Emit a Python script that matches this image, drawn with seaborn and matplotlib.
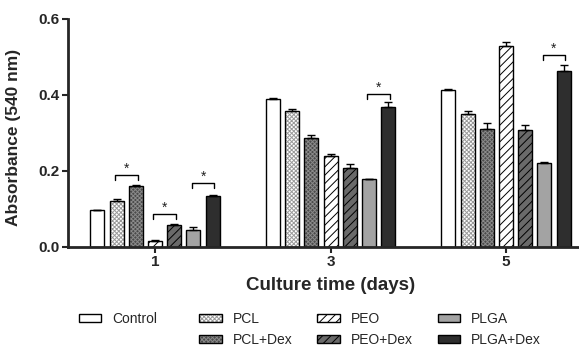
import numpy as np
import pandas as pd
import matplotlib
matplotlib.use("Agg")
import matplotlib.pyplot as plt
import seaborn as sns
from matplotlib.patches import Patch

# ---- data ----
days = ["1", "3", "5"]
materials = ["Control", "PCL", "PCL+Dex", "PEO", "PEO+Dex", "PLGA", "PLGA+Dex"]
means = {
    "Control":  [0.095, 0.390, 0.413],
    "PCL":      [0.120, 0.357, 0.350],
    "PCL+Dex":  [0.159, 0.286, 0.311],
    "PEO":      [0.014, 0.239, 0.528],
    "PEO+Dex":  [0.058, 0.207, 0.306],
    "PLGA":     [0.044, 0.177, 0.221],
    "PLGA+Dex": [0.134, 0.367, 0.463],
}
errors = {
    "Control":  [0.002, 0.002, 0.002],
    "PCL":      [0.005, 0.005, 0.008],
    "PCL+Dex":  [0.004, 0.009, 0.016],
    "PEO":      [0.003, 0.004, 0.012],
    "PEO+Dex":  [0.002, 0.010, 0.014],
    "PLGA":     [0.007, 0.002, 0.001],
    "PLGA+Dex": [0.003, 0.013, 0.016],
}
# significance brackets: (day index, material a, material b, bracket top value)
sig_days = [0, 0, 0, 1, 2]
sig_a = ["PCL", "PEO", "PLGA", "PLGA", "PLGA"]
sig_b = ["PCL+Dex", "PEO+Dex", "PLGA+Dex", "PLGA+Dex", "PLGA+Dex"]
sig_top = [0.189, 0.085, 0.167, 0.403, 0.504]

y_ticks = [0.0, 0.2, 0.4, 0.6]
y_tick_labels = ["0.0", "0.2", "0.4", "0.6"]

# ---- styles ----
face = {"Control": "white", "PCL": "white", "PCL+Dex": "#4a4a4a",
        "PEO": "white", "PEO+Dex": "#6a6a6a", "PLGA": "#a3a3a3",
        "PLGA+Dex": "#2e2e2e"}
hatch = {"Control": "", "PCL": "xxxxxxxx", "PCL+Dex": "xxxxxxxx",
         "PEO": "////", "PEO+Dex": "////", "PLGA": "", "PLGA+Dex": ""}
hcol = {"PCL": "#9a9a9a", "PCL+Dex": "#8a8a8a", "PEO": "black", "PEO+Dex": "black"}

rows = []
for m in materials:
    for d, v in zip(days, means[m]):
        rows.append({"day": d, "material": m, "value": v})
df = pd.DataFrame(rows)

sns.set_style("ticks")
plt.rcParams["font.family"] = ["Liberation Sans", "DejaVu Sans"]
plt.rcParams["hatch.linewidth"] = 0.7

fig = plt.figure(figsize=(5.79, 3.46), dpi=100)
ax = fig.add_axes([68 / 579, 1 - 246.5 / 346, 1 - 68 / 579, (246.5 - 19) / 346])

sns.barplot(data=df, x="day", y="value", hue="material", order=days,
            hue_order=materials, palette=[face[m] for m in materials],
            width=0.766, gap=0.27, errorbar=None, edgecolor="black",
            linewidth=1.0, saturation=1, legend=False, ax=ax)

centers = {}
for m, cont in zip(materials, ax.containers):
    xs = []
    ws = []
    for bar in cont:
        bar.set_facecolor(face[m])
        if hatch[m]:
            # hatch drawn in its own colour; outline added on top
            bar.set_hatch(hatch[m])
            bar.set_edgecolor(hcol[m])
            bar.set_linewidth(0)
        else:
            bar.set_edgecolor("black")
        xs.append(bar.get_x() + bar.get_width() / 2)
        ws.append(bar.get_width())
    centers[m] = xs
    if hatch[m]:
        ax.bar(xs, means[m], width=ws, fill=False, edgecolor="black",
               linewidth=1.0, zorder=2.5)
    ax.errorbar(xs, means[m], yerr=[np.zeros(3), errors[m]], fmt="none",
                ecolor="black", elinewidth=1.0, capsize=3, capthick=1.0, zorder=3)

for d, a, b, top in zip(sig_days, sig_a, sig_b, sig_top):
    xa = centers[a][d] - 0.01
    xb = centers[b][d] + 0.01
    leg = 0.013
    ax.plot([xa, xa, xb, xb], [top - leg, top, top, top - leg], color="black", lw=1.0)
    ax.text((xa + xb) / 2, top - 0.002, "*", ha="center", va="bottom",
            fontsize=10, color="#222222")

ax.set_ylim(0, 0.6)
ax.set_xlim(-0.496, 2.416)
ax.set_yticks(y_ticks)
ax.set_yticklabels(y_tick_labels, fontweight="bold", fontsize=11)
ax.set_xticks(range(len(days)))
ax.set_xticklabels(days, fontweight="bold", fontsize=11)
ax.tick_params(axis="both", width=1.5, length=4, direction="out", pad=2)
for s in ["top", "right"]:
    ax.spines[s].set_visible(False)
for s in ["left", "bottom"]:
    ax.spines[s].set_linewidth(2)
ax.set_ylabel("Absorbance (540 nm)", fontweight="bold", fontsize=12.5)
ax.set_xlabel("Culture time (days)", fontweight="bold", fontsize=13.5)
ax.yaxis.set_label_coords(-47 / 511, 0.481)
ax.xaxis.set_label_coords(0.513, -30 / 227.5)

handles = []
labels = []
for m in materials:
    if hatch[m]:
        ph = Patch(facecolor=face[m], edgecolor=hcol[m], hatch=hatch[m], linewidth=0)
        po = Patch(facecolor="none", edgecolor="black", linewidth=1.0)
        handles.append((ph, po))
    else:
        handles.append(Patch(facecolor=face[m], edgecolor="black", linewidth=1.0))
    labels.append(m)
blank = Patch(facecolor="none", edgecolor="none")
order_h = [handles[0], blank, handles[1], handles[2], handles[3], handles[4], handles[5], handles[6]]
order_l = [labels[0], " " * 16, labels[1], labels[2], labels[3], labels[4], labels[5], labels[6]]
fig.legend(order_h, order_l, ncol=4, loc="upper left",
           bbox_to_anchor=(79 / 579, 1 - 312 / 346), frameon=False,
           fontsize=10, handlelength=1.6, handleheight=0.55, handletextpad=0.8,
           columnspacing=1.8, labelspacing=0.5, borderpad=0, borderaxespad=0)

fig.savefig("out.png", dpi=100)
